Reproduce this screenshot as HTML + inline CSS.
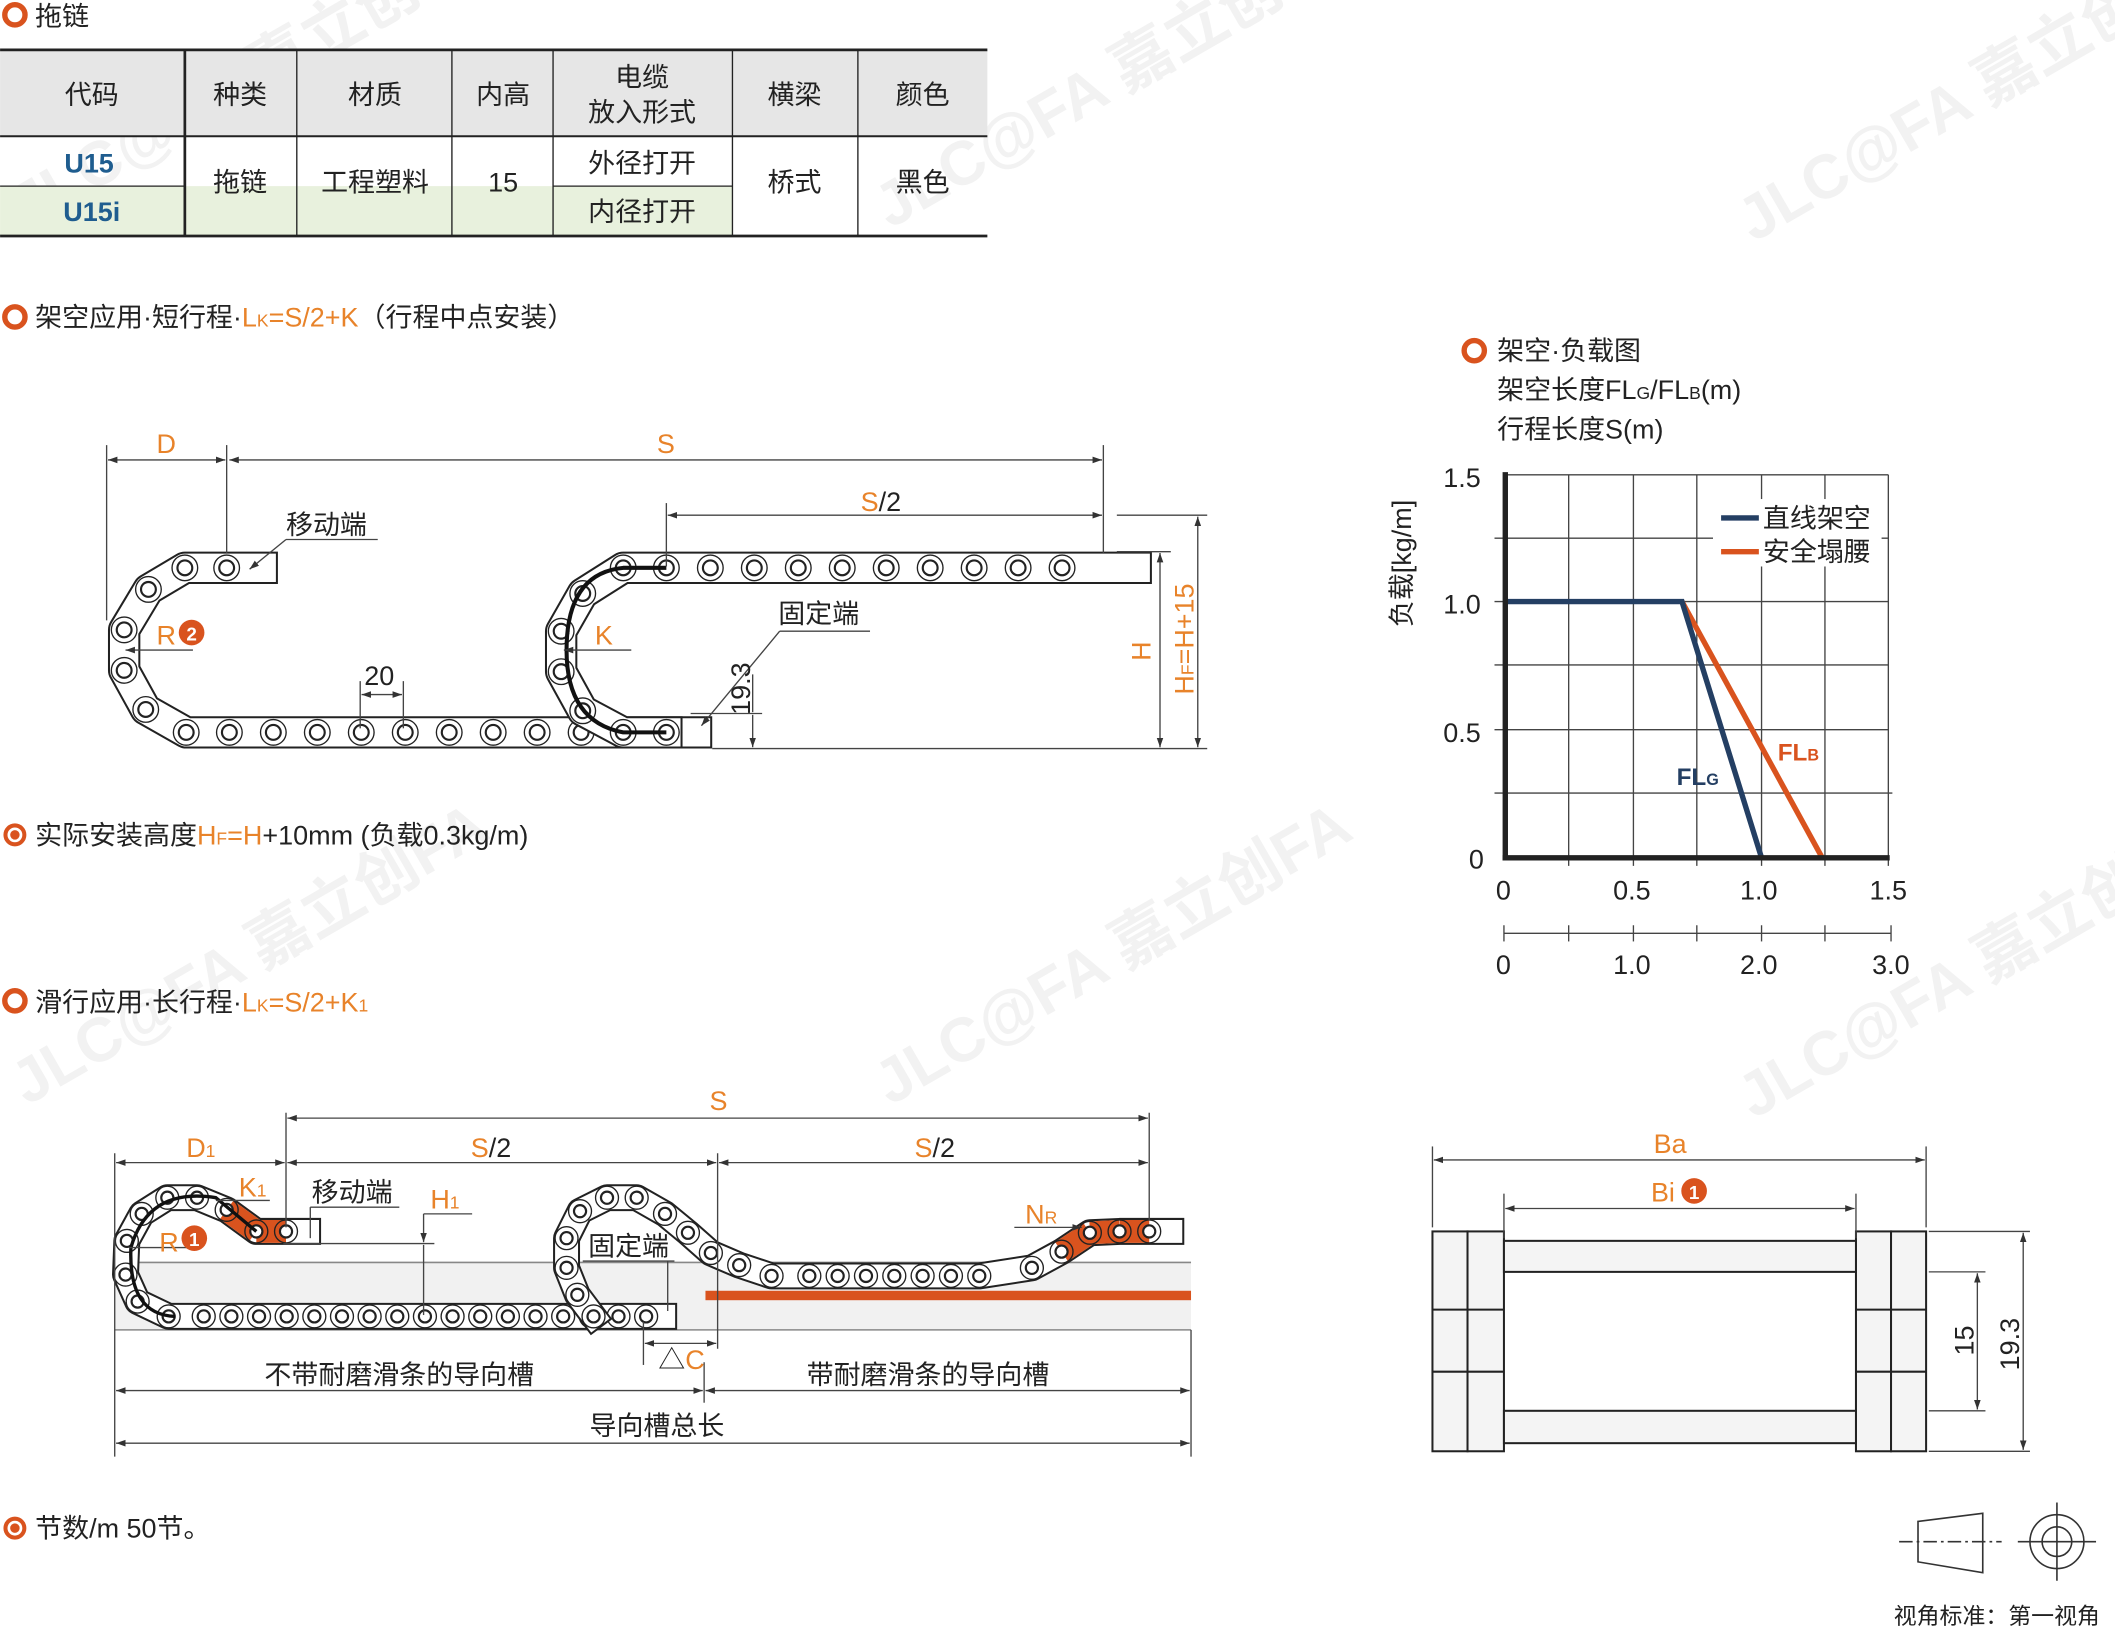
<!DOCTYPE html>
<html><head><meta charset="utf-8"><style>
html,body{margin:0;padding:0;background:#fff;}
svg{display:block;}
text{font-family:"Liberation Sans","Noto Sans CJK SC",sans-serif;}
</style></head><body>
<svg id="s" width="2115" height="1632" viewBox="0 0 1568 1210" xmlns="http://www.w3.org/2000/svg">
<defs>
<marker id="a" viewBox="0 0 10 10" refX="10" refY="5" markerWidth="7" markerHeight="7" orient="auto-start-reverse"><path d="M0,1.5 L10,5 L0,8.5 z" fill="#333"/></marker>
</defs>
<!-- watermarks -->
<g fill="#f2f2f2" font-size="46" font-weight="bold">
<text transform="translate(20,170) rotate(-30)">JLC@FA 嘉立创FA</text>
<text transform="translate(660,170) rotate(-30)">JLC@FA 嘉立创FA</text>
<text transform="translate(1300,180) rotate(-30)">JLC@FA 嘉立创FA</text>
<text transform="translate(20,820) rotate(-30)">JLC@FA 嘉立创FA</text>
<text transform="translate(660,820) rotate(-30)">JLC@FA 嘉立创FA</text>
<text transform="translate(1300,830) rotate(-30)">JLC@FA 嘉立创FA</text>
</g>

<circle cx="11" cy="11" r="7.5" fill="none" stroke="#d9531e" stroke-width="4"/>
<text x="26" y="19" font-size="20" fill="#222">拖链</text>

<rect x="0" y="37" width="732" height="64" fill="#e6e6e6"/>
<rect x="0" y="138" width="137" height="37" fill="#e8f1dd"/>
<rect x="137" y="138" width="273" height="37" fill="#e8f1dd"/>
<rect x="410" y="138" width="133" height="37" fill="#e8f1dd"/>
<g stroke="#222" fill="none">
<line x1="0" y1="37" x2="732" y2="37" stroke-width="2"/>
<line x1="0" y1="101" x2="732" y2="101" stroke-width="1.5"/>
<line x1="0" y1="175" x2="732" y2="175" stroke-width="2"/>
<line x1="0" y1="138" x2="137" y2="138" stroke-width="1"/>
<line x1="410" y1="138" x2="543" y2="138" stroke-width="1"/>
<line x1="137" y1="37" x2="137" y2="175" stroke-width="2"/>
<line x1="220" y1="37" x2="220" y2="175" stroke-width="1"/>
<line x1="335" y1="37" x2="335" y2="175" stroke-width="1"/>
<line x1="410" y1="37" x2="410" y2="175" stroke-width="1"/>
<line x1="543" y1="37" x2="543" y2="175" stroke-width="1"/>
<line x1="636" y1="37" x2="636" y2="175" stroke-width="1"/>
</g>
<g font-size="20" fill="#222" text-anchor="middle">
<text x="68" y="77">代码</text><text x="178" y="77">种类</text><text x="278" y="77">材质</text><text x="373" y="77">内高</text>
<text x="476" y="64">电缆</text><text x="476" y="90">放入形式</text><text x="589" y="77">横梁</text><text x="684" y="77">颜色</text>
<text x="66" y="128" fill="#1f5d8f" font-weight="bold">U15</text><text x="68" y="164" fill="#1f5d8f" font-weight="bold">U15i</text>
<text x="178" y="142">拖链</text><text x="278" y="142">工程塑料</text><text x="373" y="142">15</text>
<text x="476" y="128">外径打开</text><text x="476" y="164">内径打开</text><text x="589" y="142">桥式</text><text x="684" y="142">黑色</text>
</g>

<circle cx="11" cy="235" r="7.5" fill="none" stroke="#d9531e" stroke-width="4"/>
<text x="26" y="242" font-size="20" fill="#222">架空应用·短行程·<tspan fill="#e8832a">L<tspan font-size="13">K</tspan>=S/2+K</tspan>（行程中点安装）</text>

<g id="chains"></g>

<g stroke="#444" stroke-width="1" fill="none">
<line x1="79" y1="330" x2="79" y2="460"/><line x1="168" y1="330" x2="168" y2="410"/><line x1="818" y1="330" x2="818" y2="410"/>
<line x1="80" y1="341" x2="167" y2="341" marker-start="url(#a)" marker-end="url(#a)"/>
<line x1="170" y1="341" x2="817" y2="341" marker-start="url(#a)" marker-end="url(#a)"/>
<line x1="494" y1="373" x2="494" y2="420"/>
<line x1="495" y1="382" x2="817" y2="382" marker-start="url(#a)" marker-end="url(#a)"/>
<line x1="828" y1="382" x2="895" y2="382"/>
<line x1="828" y1="409" x2="868" y2="409"/>
<line x1="528" y1="555" x2="895" y2="555"/>
<line x1="512" y1="529" x2="565" y2="529"/>
<line x1="860" y1="410" x2="860" y2="554" marker-start="url(#a)" marker-end="url(#a)"/>
<line x1="888" y1="383" x2="888" y2="554" marker-start="url(#a)" marker-end="url(#a)"/>
<line x1="558" y1="530" x2="558" y2="554" marker-end="url(#a)"/>
<line x1="558" y1="500" x2="558" y2="528"/>
<line x1="267" y1="505" x2="267" y2="540"/><line x1="299" y1="505" x2="299" y2="540"/>
<line x1="268" y1="515" x2="298" y2="515" marker-start="url(#a)" marker-end="url(#a)"/>
<line x1="143" y1="482" x2="93" y2="482" marker-end="url(#a)"/>
<line x1="468" y1="482" x2="418" y2="482" marker-end="url(#a)"/>
<line x1="212" y1="400" x2="280" y2="400"/><line x1="212" y1="400" x2="185" y2="422" marker-end="url(#a)"/>
<line x1="578" y1="468" x2="645" y2="468"/><line x1="578" y1="468" x2="520" y2="538" marker-end="url(#a)"/>
</g>
<g font-size="20" fill="#e8832a">
<text x="116" y="336">D</text><text x="487" y="336">S</text><text x="638" y="379">S<tspan fill="#222">/2</tspan></text>
<text x="116" y="478">R</text><text x="441" y="478">K</text>
<text transform="translate(853,490) rotate(-90)">H</text>
<text transform="translate(885,515) rotate(-90)">H<tspan font-size="13">F</tspan>=H+15</text>
</g>
<circle cx="142" cy="469" r="9.5" fill="#d9531e"/><text x="142" y="475" font-size="14" font-weight="bold" fill="#fff" text-anchor="middle">2</text>
<g font-size="20" fill="#222"><text x="212" y="396">移动端</text><text x="577" y="462">固定端</text><text x="270" y="508">20</text>
<text transform="translate(556,530) rotate(-90)">19.3</text></g>

<circle cx="11" cy="619" r="7" fill="none" stroke="#d9531e" stroke-width="3"/><circle cx="11" cy="619" r="3.5" fill="#d9531e"/>
<text x="26" y="626" font-size="20" fill="#222">实际安装高度<tspan fill="#e8832a">H<tspan font-size="13">F</tspan>=H</tspan>+10mm (负载0.3kg/m)</text>

<circle cx="11" cy="742" r="7.5" fill="none" stroke="#d9531e" stroke-width="4"/>
<text x="26" y="750" font-size="20" fill="#222">滑行应用·长行程·<tspan fill="#e8832a">L<tspan font-size="13">K</tspan>=S/2+K<tspan font-size="13">1</tspan></tspan></text>

<rect x="85" y="936" width="798" height="50" fill="#f1f1f1"/>
<line x1="85" y1="936" x2="883" y2="936" stroke="#888" stroke-width="1.2"/>
<line x1="85" y1="986" x2="883" y2="986" stroke="#888" stroke-width="1.2"/>
<rect x="523" y="957" width="360" height="7" fill="#d9531e"/>
<g id="chains2"></g>
<g stroke="#444" stroke-width="1" fill="none">
<line x1="85" y1="855" x2="85" y2="1080"/><line x1="212" y1="825" x2="212" y2="910"/><line x1="532" y1="855" x2="532" y2="1000"/><line x1="852" y1="825" x2="852" y2="905"/>
<line x1="883" y1="986" x2="883" y2="1080"/><line x1="522" y1="1010" x2="522" y2="1040"/><line x1="477" y1="980" x2="477" y2="1012"/>
<line x1="213" y1="829" x2="851" y2="829" marker-start="url(#a)" marker-end="url(#a)"/>
<line x1="86" y1="862" x2="211" y2="862" marker-start="url(#a)" marker-end="url(#a)"/>
<line x1="213" y1="862" x2="531" y2="862" marker-start="url(#a)" marker-end="url(#a)"/>
<line x1="533" y1="862" x2="851" y2="862" marker-start="url(#a)" marker-end="url(#a)"/>
<line x1="478" y1="996" x2="531" y2="996" marker-start="url(#a)" marker-end="url(#a)"/>
<line x1="86" y1="1031" x2="521" y2="1031" marker-start="url(#a)" marker-end="url(#a)"/>
<line x1="523" y1="1031" x2="882" y2="1031" marker-start="url(#a)" marker-end="url(#a)"/>
<line x1="86" y1="1070" x2="882" y2="1070" marker-start="url(#a)" marker-end="url(#a)"/>
<line x1="210" y1="922" x2="322" y2="922"/>
<line x1="314" y1="900" x2="350" y2="900"/><line x1="314" y1="900" x2="314" y2="921" marker-end="url(#a)"/><line x1="314" y1="923" x2="314" y2="975"/>
<line x1="230" y1="895" x2="296" y2="895"/><line x1="230" y1="895" x2="230" y2="918"/>
<line x1="160" y1="890" x2="200" y2="890"/>
<line x1="96" y1="925" x2="146" y2="925"/>
<line x1="432" y1="935" x2="500" y2="935"/><line x1="495" y1="935" x2="495" y2="972"/>
<line x1="752" y1="910" x2="802" y2="910" marker-end="url(#a)"/>
</g>
<g font-size="20" fill="#e8832a">
<text x="138" y="858">D<tspan font-size="13">1</tspan></text><text x="526" y="823">S</text>
<text x="349" y="858">S<tspan fill="#222">/2</tspan></text><text x="678" y="858">S<tspan fill="#222">/2</tspan></text>
<text x="177" y="887">K<tspan font-size="13">1</tspan></text><text x="319" y="896">H<tspan font-size="13">1</tspan></text>
<text x="118" y="928">R</text><text x="760" y="907">N<tspan font-size="13">R</tspan></text>
<text x="488" y="1015"><tspan fill="#222">△</tspan>C</text>
</g>
<circle cx="144" cy="918" r="9.5" fill="#d9531e"/><text x="144" y="924" font-size="14" font-weight="bold" fill="#fff" text-anchor="middle">1</text>
<g font-size="20" fill="#222">
<text x="231" y="891">移动端</text><text x="436" y="931">固定端</text>
<text x="196" y="1026">不带耐磨滑条的导向槽</text><text x="598" y="1026">带耐磨滑条的导向槽</text><text x="437" y="1064">导向槽总长</text>
</g>

<circle cx="11" cy="1133" r="7" fill="none" stroke="#d9531e" stroke-width="3"/><circle cx="11" cy="1133" r="3.5" fill="#d9531e"/>
<text x="26" y="1140" font-size="20" fill="#222">节数/m 50节。</text>

<circle cx="1093" cy="260" r="7.5" fill="none" stroke="#d9531e" stroke-width="4"/>
<g font-size="20" fill="#222">
<text x="1110" y="267">架空·负载图</text>
<text x="1110" y="296">架空长度FL<tspan font-size="13">G</tspan>/FL<tspan font-size="13">B</tspan>(m)</text>
<text x="1110" y="325">行程长度S(m)</text>
</g>
<g stroke="#444" stroke-width="1">
<line x1="1115" y1="352" x2="1400" y2="352"/><line x1="1108" y1="399" x2="1400" y2="399"/><line x1="1108" y1="446" x2="1400" y2="446"/>
<line x1="1108" y1="493" x2="1400" y2="493"/><line x1="1108" y1="541" x2="1400" y2="541"/><line x1="1108" y1="588" x2="1403" y2="588"/>
<line x1="1163" y1="352" x2="1163" y2="642"/><line x1="1211" y1="352" x2="1211" y2="642"/><line x1="1258" y1="352" x2="1258" y2="642"/>
<line x1="1306" y1="352" x2="1306" y2="642"/><line x1="1353" y1="352" x2="1353" y2="642"/><line x1="1400" y1="352" x2="1400" y2="642"/>
<line x1="1115" y1="692" x2="1402" y2="692"/>
<line x1="1115" y1="686" x2="1115" y2="698"/><line x1="1163" y1="686" x2="1163" y2="698"/><line x1="1211" y1="686" x2="1211" y2="698"/>
<line x1="1258" y1="686" x2="1258" y2="698"/><line x1="1306" y1="686" x2="1306" y2="698"/><line x1="1353" y1="686" x2="1353" y2="698"/><line x1="1402" y1="686" x2="1402" y2="698"/>
</g>
<rect x="1270" y="370" width="125" height="50" fill="#fff"/>
<polyline points="1247,446 1351,636" fill="none" stroke="#d9531e" stroke-width="4"/>
<polyline points="1116,446 1247,446 1306,636" fill="none" stroke="#243f63" stroke-width="4"/>
<line x1="1116" y1="350" x2="1116" y2="638" stroke="#222" stroke-width="4"/>
<line x1="1114" y1="636" x2="1401" y2="636" stroke="#222" stroke-width="4"/>
<line x1="1276" y1="384" x2="1304" y2="384" stroke="#243f63" stroke-width="4"/>
<line x1="1276" y1="409" x2="1304" y2="409" stroke="#d9531e" stroke-width="4"/>
<g font-size="20" fill="#222">
<text x="1307" y="391">直线架空</text><text x="1307" y="416">安全塌腰</text>
<text x="1070" y="361">1.5</text><text x="1070" y="455">1.0</text><text x="1070" y="550">0.5</text><text x="1089" y="644">0</text>
<text x="1109" y="667">0</text><text x="1196" y="667">0.5</text><text x="1290" y="667">1.0</text><text x="1386" y="667">1.5</text>
<text x="1109" y="722">0</text><text x="1196" y="722">1.0</text><text x="1290" y="722">2.0</text><text x="1388" y="722">3.0</text>
<text transform="translate(1046,465) rotate(-90)">负载[kg/m]</text>
</g>
<text x="1243" y="582" font-size="18" font-weight="bold" fill="#243f63">FL<tspan font-size="12">G</tspan></text>
<text x="1318" y="564" font-size="18" font-weight="bold" fill="#d9531e">FL<tspan font-size="12">B</tspan></text>

<g stroke="#222" stroke-width="1.5" fill="#f4f4f4">
<rect x="1062" y="913" width="26" height="163"/><rect x="1088" y="913" width="27" height="163"/>
<rect x="1376" y="913" width="26" height="163"/><rect x="1402" y="913" width="26" height="163"/>
<rect x="1115" y="920" width="261" height="23"/><rect x="1115" y="1046" width="261" height="24"/>
</g>
<g stroke="#222" stroke-width="1.5">
<line x1="1062" y1="971" x2="1115" y2="971"/><line x1="1062" y1="1017" x2="1115" y2="1017"/>
<line x1="1376" y1="971" x2="1428" y2="971"/><line x1="1376" y1="1017" x2="1428" y2="1017"/>
</g>
<g stroke="#444" stroke-width="1" fill="none">
<line x1="1062" y1="850" x2="1062" y2="910"/><line x1="1428" y1="850" x2="1428" y2="910"/>
<line x1="1115" y1="885" x2="1115" y2="918"/><line x1="1376" y1="885" x2="1376" y2="918"/>
<line x1="1063" y1="860" x2="1427" y2="860" marker-start="url(#a)" marker-end="url(#a)"/>
<line x1="1116" y1="896" x2="1375" y2="896" marker-start="url(#a)" marker-end="url(#a)"/>
<line x1="1430" y1="913" x2="1505" y2="913"/><line x1="1430" y1="1076" x2="1505" y2="1076"/>
<line x1="1430" y1="943" x2="1472" y2="943"/><line x1="1430" y1="1046" x2="1472" y2="1046"/>
<line x1="1466" y1="944" x2="1466" y2="1045" marker-start="url(#a)" marker-end="url(#a)"/>
<line x1="1500" y1="914" x2="1500" y2="1075" marker-start="url(#a)" marker-end="url(#a)"/>
</g>
<g font-size="20" fill="#e8832a"><text x="1226" y="855">Ba</text><text x="1224" y="891">Bi</text></g>
<circle cx="1256" cy="883" r="9.5" fill="#d9531e"/><text x="1256" y="889" font-size="14" font-weight="bold" fill="#fff" text-anchor="middle">1</text>
<g font-size="20" fill="#222"><text transform="translate(1463,1005) rotate(-90)">15</text><text transform="translate(1497,1016) rotate(-90)">19.3</text></g>

<g stroke="#333" stroke-width="1.2" fill="none">
<polygon points="1422,1128 1470,1122 1470,1166 1422,1158"/>
<line x1="1408" y1="1143" x2="1484" y2="1143" stroke-dasharray="10,3,2,3"/>
<circle cx="1525" cy="1143" r="20"/><circle cx="1525" cy="1143" r="11"/>
<line x1="1496" y1="1143" x2="1554" y2="1143"/><line x1="1525" y1="1114" x2="1525" y2="1172"/>
</g>
<text x="1404" y="1204" font-size="17" fill="#222">视角标准：第一视角</text>
</svg>
<script>
var NS="http://www.w3.org/2000/svg";
function el(p,t,a){var e=document.createElementNS(NS,t);for(var k in a)e.setAttribute(k,a[k]);p.appendChild(e);return e;}
function chain(g,pts,w,r,orange,skipFirst,skipLast){
  var d="M"+pts.map(function(p){return p[0]+","+p[1]}).join(" L");
  el(g,"path",{d:d,fill:"none",stroke:"#222","stroke-width":w,"stroke-linejoin":"round","stroke-linecap":"square"});
  el(g,"path",{d:d,fill:"none",stroke:"#fff","stroke-width":w-3,"stroke-linejoin":"round","stroke-linecap":"square"});
  for(var i=0;i<pts.length-1;i++){
    if(orange&&orange.indexOf(i)>=0){el(g,"line",{x1:pts[i][0],y1:pts[i][1],x2:pts[i+1][0],y2:pts[i+1][1],stroke:"#d9531e","stroke-width":w-3});}
  }
  pts.forEach(function(p,i){
    if((skipFirst&&i==0)||(skipLast&&i==pts.length-1))return;
    el(g,"circle",{cx:p[0],cy:p[1],r:r+4,fill:"none",stroke:"#222","stroke-width":1});
    el(g,"circle",{cx:p[0],cy:p[1],r:r,fill:"#fff",stroke:"#222","stroke-width":1.6});});
}
var g=document.getElementById("chains");
var L=[[194,421],[168,421],[137,421],[110,437],[92,467],[92,497],[108,526],[138,543]];
for(var x=170;x<=500;x+=32.6)L.push([x,543]);L.push([516,543]);
chain(g,L,24,5.5,null,true,true);
var R=[[494,543],[462,543],[432,527],[416,498],[416,468],[432,440],[462,421]];
for(var x=494;x<=820;x+=32.6)R.push([x,421]);R.push([842,421]);
chain(g,R,24,5.5,null,false,true);
el(g,"path",{d:"M494,543 L462,543 Q420,535 420,482 Q420,425 462,421 L494,421",fill:"none",stroke:"#111","stroke-width":3});
var g2=document.getElementById("chains2");
var A=[[228,913],[212,913],[190,913],[168,897],[146,888],[124,888],[105,900],[94,920],[93,945],[102,965],[125,976]];
for(var x=151;x<=492;x+=20.5)A.push([x,976]);A.push([492,976]);
chain(g2,A,20,4.5,[1,2],true,true);
el(g2,"path",{d:"M190,913 L160,888 Q110,880 97,925 Q95,975 130,976",fill:"none",stroke:"#111","stroke-width":2.5});
var B=[[440,976],[428,960],[420,940],[420,918],[430,898],[450,888],[472,888],[493,900],[510,914],[527,929],[548,938],[572,946]];
for(var x=600;x<=745;x+=21)B.push([x,946]);
B=B.concat([[765,940],[787,928],[808,914],[830,913],[852,913],[868,913]]);
chain(g2,B,20,4.5,[B.length-5,B.length-4,B.length-3],false,true);
</script>
</body></html>
